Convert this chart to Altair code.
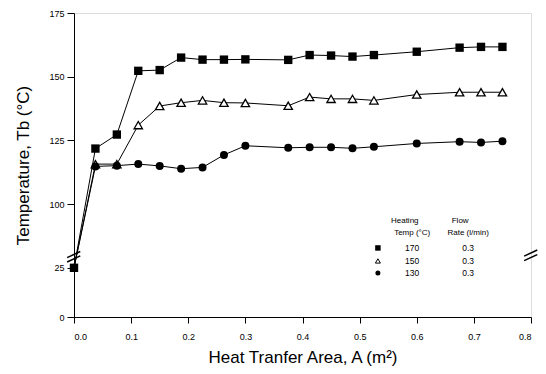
import altair as alt
import pandas as pd

# ---- data ----
area = [0.0, 0.0375, 0.075, 0.1125, 0.15, 0.1875, 0.225, 0.2625, 0.30,
        0.375, 0.4125, 0.45, 0.4875, 0.525, 0.60, 0.675, 0.7125, 0.75]
temp_170 = [25, 121.8, 127.3, 152.3, 152.6, 157.5, 156.7, 156.7, 156.8,
            156.6, 158.5, 158.3, 157.9, 158.5, 159.8, 161.4, 161.7, 161.7]
temp_150 = [25, 115.7, 115.7, 131.0, 138.5, 139.8, 140.7, 139.8, 139.7,
            138.6, 142.0, 141.3, 141.3, 140.7, 143.0, 143.9, 143.9, 143.9]
temp_130 = [25, 114.8, 115.1, 115.7, 115.0, 113.9, 114.4, 119.3, 122.9,
            122.1, 122.3, 122.3, 121.9, 122.5, 123.8, 124.5, 124.2, 124.7]
series_names = ["170", "150", "130"]
flow_rate = ["0.3", "0.3", "0.3"]
y_tick_labels = [0, 25, 100, 125, 150, 175]
x_ticks = [0.0, 0.1, 0.2, 0.3, 0.4, 0.5, 0.6, 0.7, 0.8]


# broken axis: upper part linear from 100, lower part 0..25 compressed
def disp(t):
    return t if t >= 100 else 55.7 + t * (75.0 - 55.7) / 25.0


rows = []
for name, vals in zip(series_names, [temp_170, temp_150, temp_130]):
    for a, t in zip(area, vals):
        rows.append({"A": a, "T": t, "D": disp(t), "series": name})
df = pd.DataFrame(rows)

tick_vals = [disp(v) for v in y_tick_labels]
label_expr = " : ".join(
    [f"abs(datum.value - {d}) < 0.5 ? '{v}'" for d, v in zip(tick_vals, y_tick_labels)]
) + " : ''"

xs = alt.Scale(domain=[0, 0.8], nice=False, zero=False)
ys = alt.Scale(domain=[55.7, 175], nice=False, zero=False)

base = alt.Chart(df)

xaxis = alt.Axis(values=x_ticks, format=".1f", grid=False, tickSize=6,
                 labelPadding=9, labelFontSize=9, titleFontSize=17,
                 titleFontWeight="normal", titlePadding=8,
                 labelFont="Liberation Sans", titleFont="Liberation Sans",
                 domainColor="black", tickColor="black", labelColor="black",
                 titleColor="black")
yaxis = alt.Axis(values=tick_vals, labelExpr=label_expr, grid=False, tickSize=7,
                 labelPadding=3, labelFontSize=9, titleFontSize=17,
                 titleFontWeight="normal", titlePadding=16,
                 labelFont="Liberation Sans", titleFont="Liberation Sans",
                 domainColor="black", tickColor="black", labelColor="black",
                 titleColor="black")

lines = base.mark_line(color="black", strokeWidth=1).encode(
    x=alt.X("A:Q", scale=xs, axis=xaxis, title="Heat Tranfer Area, A (m²)"),
    y=alt.Y("D:Q", scale=ys, axis=yaxis, title="Temperature, Tb (°C)"),
    detail="series:N",
)

sq = base.transform_filter(alt.datum.series == "170").mark_point(
    shape="square", filled=True, color="black", size=70, opacity=1
).encode(x=alt.X("A:Q", scale=xs), y=alt.Y("D:Q", scale=ys))

tri = base.transform_filter(
    (alt.datum.series == "150") & (alt.datum.A > 0)
).mark_point(
    shape="triangle-up", filled=True, fill="white", stroke="black",
    strokeWidth=1.3, size=70, opacity=1
).encode(x=alt.X("A:Q", scale=xs), y=alt.Y("D:Q", scale=ys))

cir = base.transform_filter(alt.datum.series == "130").mark_point(
    shape="circle", filled=True, color="black", size=64, opacity=1
).encode(x=alt.X("A:Q", scale=xs), y=alt.Y("D:Q", scale=ys))

# break marks on left and right axes
brk = pd.DataFrame({
    "x": [-0.012, -0.012, 0.788, 0.788],
    "x2": [0.011, 0.011, 0.811, 0.811],
    "y": [79.0, 77.3, 79.6, 77.8],
    "y2": [81.4, 79.7, 82.0, 80.2],
})
breaks = alt.Chart(brk).mark_rule(color="black", strokeWidth=1.5).encode(
    x=alt.X("x:Q", scale=xs), x2="x2:Q",
    y=alt.Y("y:Q", scale=ys), y2="y2:Q",
)

# legend (drawn as annotation)
leg_head = pd.DataFrame({
    "x": [0.579, 0.592, 0.676, 0.69],
    "y": [93.5, 88.7, 93.5, 88.7],
    "t": ["Heating", "Temp (°C)", "Flow", "Rate (l/min)"],
})
head = alt.Chart(leg_head).mark_text(
    align="center", fontSize=8, font="Liberation Sans", color="black"
).encode(x=alt.X("x:Q", scale=xs), y=alt.Y("y:Q", scale=ys), text="t:N")

leg_rows = pd.DataFrame({
    "x": [0.592] * 3,
    "x2": [0.69] * 3,
    "y": [82.8, 77.7, 73.0],
    "name": series_names,
    "flow": flow_rate,
})
row_name = alt.Chart(leg_rows).mark_text(
    align="center", fontSize=8.5, font="Liberation Sans", color="black"
).encode(x=alt.X("x:Q", scale=xs), y=alt.Y("y:Q", scale=ys), text="name:N")
row_flow = alt.Chart(leg_rows).mark_text(
    align="center", fontSize=8.5, font="Liberation Sans", color="black"
).encode(x=alt.X("x2:Q", scale=xs), y=alt.Y("y:Q", scale=ys), text="flow:N")

leg_sym = pd.DataFrame({"x": [0.532] * 3, "y": [82.8, 77.7, 73.0],
                        "series": series_names})
sym_sq = alt.Chart(leg_sym).transform_filter(alt.datum.series == "170").mark_point(
    shape="square", filled=True, color="black", size=30, opacity=1
).encode(x=alt.X("x:Q", scale=xs), y=alt.Y("y:Q", scale=ys))
sym_tri = alt.Chart(leg_sym).transform_filter(alt.datum.series == "150").mark_point(
    shape="triangle-up", filled=True, fill="white", stroke="black",
    strokeWidth=1, size=25, opacity=1
).encode(x=alt.X("x:Q", scale=xs), y=alt.Y("y:Q", scale=ys))
sym_cir = alt.Chart(leg_sym).transform_filter(alt.datum.series == "130").mark_point(
    shape="circle", filled=True, color="black", size=25, opacity=1
).encode(x=alt.X("x:Q", scale=xs), y=alt.Y("y:Q", scale=ys))

chart = alt.layer(
    lines, sq, tri, cir, breaks, head, row_name, row_flow, sym_sq, sym_tri, sym_cir
).properties(
    width=457, height=304,
    autosize=alt.AutoSizeParams(type="none"),
    padding={"left": 66, "top": 5, "right": 7, "bottom": 49},
).configure_view(stroke="black", strokeWidth=1).configure(background="white")

chart.save("out.html", embed_options={"renderer": "svg", "actions": False})
